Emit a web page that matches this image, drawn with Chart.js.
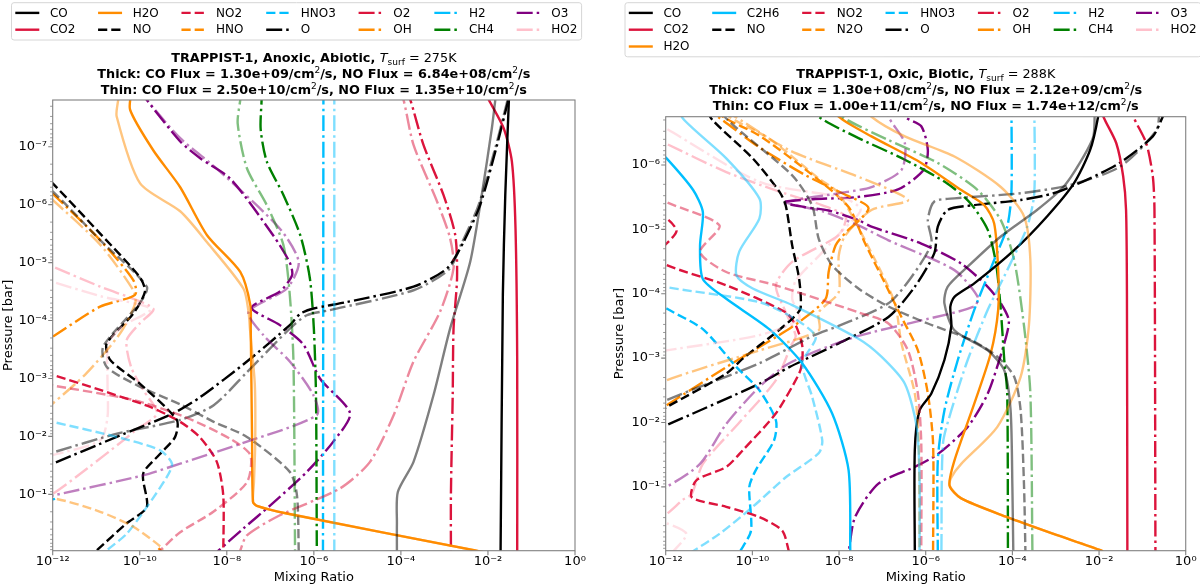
<!DOCTYPE html>
<html><head><meta charset="utf-8">
<script src="https://cdn.jsdelivr.net/npm/chart.js@4.4.1/dist/chart.umd.min.js"></script>
<style>
html,body{margin:0;padding:0;background:#fff;}
#wrap{position:relative;width:1200px;height:588px;overflow:hidden;}
.pane{position:absolute;top:0;width:600px;height:588px;}
</style></head><body>
<div id="wrap">
<div class="pane" style="left:0"><canvas id="cA" width="600" height="588"></canvas></div>
<div class="pane" style="left:600px"><canvas id="cB" width="600" height="588"></canvas></div>
</div>
<script>
// ---------------- axis values ----------------
const X_RANGE = [1e-12, 1];
const X_TICKS = [1e-12,1e-10,1e-8,1e-6,1e-4,1e-2,1];
const X_TICK_LABELS = ['10⁻¹²','10⁻¹⁰','10⁻⁸','10⁻⁶','10⁻⁴','10⁻²','10⁰'];
const A_P_RANGE = [1.56e-8, 0.94];
const A_Y_TICKS = [1e-7,1e-6,1e-5,1e-4,1e-3,1e-2,1e-1];
const A_Y_TICK_LABELS = ['10⁻⁷','10⁻⁶','10⁻⁵','10⁻⁴','10⁻³','10⁻²','10⁻¹'];
const B_P_RANGE = [1.78e-7, 0.98];
const B_Y_TICKS = [1e-6,1e-5,1e-4,1e-3,1e-2,1e-1];
const B_Y_TICK_LABELS = ['10⁻⁶','10⁻⁵','10⁻⁴','10⁻³','10⁻²','10⁻¹'];

// ---------------- titles ----------------
const A_NAME = 'TRAPPIST-1, Anoxic, Abiotic', A_TSURF = '275';
const A_FLUX_THICK = ['1.30e+09','6.84e+08'], A_FLUX_THIN = ['2.50e+10','1.35e+10'];
const B_NAME = 'TRAPPIST-1, Oxic, Biotic', B_TSURF = '288';
const B_FLUX_THICK = ['1.30e+08','2.12e+09'], B_FLUX_THIN = ['1.00e+11','1.74e+12'];

const A_SPECIES = ['CO','CO2','H2O','NO','NO2','HNO','HNO3','O','O2','OH','H2','CH4','O3','HO2'];
const B_SPECIES = ['CO','CO2','H2O','C2H6','NO','NO2','N2O','HNO3','O','O2','OH','H2','CH4','O3','HO2'];

// ---------------- panel A (anoxic, abiotic): [mixing ratio, pressure bar] ----------------
const A_CO = [[1.95e-2,1],[2.2e-2,3.6e-5],[2.5e-2,6.8e-7],[3.1e-2,1e-8]];
const A_CO_thin = [[8.1e-5,1],[8.1e-5,0.32],[8.5e-5,9.1e-2],[1.95e-4,2.75e-2],[5.6e-4,1.95e-3],[1.35e-3,1.38e-4],[3.9e-3,9.8e-6],[7.2e-3,6.8e-7],[1.23e-2,4.8e-8],[1.58e-2,1e-8]];
const A_CO2 = [[4.7e-2,1],[4.7e-2,5e-4],[4.3e-2,2.6e-6],[3.55e-2,1.8e-7],[2.3e-2,4.8e-8],[1.05e-2,1.55e-8],[7.9e-3,1e-8]];
const A_H2O = [[6.6e-11,1e-8],[6.0e-11,2.3e-8],[2.04e-10,1.15e-7],[8.5e-10,5e-7],[3.55e-9,3.4e-6],[2.04e-8,1.45e-5],[3.47e-8,5.4e-5],[3.55e-8,1.38e-4],[3.8e-8,1e-2],[4.0e-8,0.135],[4.9e-8,0.158],[2.4e-7,0.214],[5.1e-3,0.93],[8.1e-3,1]];
const A_H2O_thin = [[3.5e-11,1e-8],[3.2e-11,1.55e-8],[2.95e-11,3.0e-8],[1.02e-10,4.3e-7],[8.5e-10,1.3e-6],[3.55e-9,4.5e-6],[2.4e-8,2.8e-5],[3.16e-8,7.1e-5],[3.4e-8,1.38e-4],[4.4e-8,1.26e-3],[4.5e-8,1.26e-2],[4.2e-8,6.3e-2],[4.0e-8,0.135],[4.9e-8,0.158],[2.4e-7,0.214],[5.1e-3,0.93],[8.1e-3,1]];
const A_NO = [[3.2e-13,2e-7],[1e-12,4.3e-7],[1.23e-11,3.16e-6],[1e-10,1.78e-5],[1.32e-10,3.16e-5],[7.1e-11,7.6e-5],[1.74e-11,2.5e-4],[2.1e-11,4.8e-4],[1e-10,1.23e-3],[7.1e-10,5.2e-3],[6.5e-10,1.02e-2],[2.95e-10,2.0e-2],[1.2e-10,4.4e-2],[1.45e-10,0.166],[5.0e-11,0.316],[1.02e-11,0.93],[8.9e-12,1]];
const A_NO_thin = [[3.2e-13,3.16e-7],[1e-12,5.9e-7],[1.23e-11,4.1e-6],[1.45e-10,2.6e-5],[1e-10,5.0e-5],[1.45e-11,2.8e-4],[1.74e-11,6.3e-4],[1e-10,1.38e-3],[8.5e-10,2.8e-3],[5.0e-9,5.6e-3],[2.9e-8,1.02e-2],[2.8e-7,4.1e-2],[4.1e-7,0.105],[4.5e-7,1]];
const A_NO2 = [[3.2e-13,7.1e-4],[1e-12,8.7e-4],[1.23e-11,1.58e-3],[1.74e-10,3.1e-3],[8.5e-10,5.6e-3],[2.45e-9,1.05e-2],[5.9e-9,2.75e-2],[8.3e-9,0.105],[8.3e-9,1]];
const A_NO2_thin = [[3.2e-13,1.12e-3],[1e-12,1.32e-3],[7.1e-11,2.35e-3],[1e-9,4.5e-3],[1.2e-8,1.1e-2],[3.47e-8,2.1e-2],[2.9e-8,6.2e-2],[4.9e-9,0.2],[8.5e-10,0.45],[2.95e-10,0.93],[2.6e-10,1]];
const A_HNO = [[3.2e-10,1],[2.9e-10,0.9],[2.7e-10,0.85]];
const A_HNO_thin = [[3.2e-13,0.141],[1e-12,0.117],[1.23e-11,0.2],[7.1e-11,0.363],[2.95e-10,0.79],[3.55e-10,1]];
const A_HNO3 = [[3e-13,0.1],[1.15e-12,0.118],[3e-13,0.14]];
const A_HNO3_thin = [[3.2e-13,4.5e-3],[1e-12,5.6e-3],[2.95e-11,1.02e-2],[2.95e-10,1.74e-2],[5.5e-10,2.95e-2],[4.2e-10,5.0e-2],[1.45e-10,0.166],[5.0e-11,0.48],[1.74e-11,0.93],[1.58e-11,1]];
const A_O = [[3.2e-13,4.0e-2],[1e-12,2.95e-2],[2.95e-11,1.02e-2],[5.9e-10,4.0e-3],[2.45e-9,2.1e-3],[2.9e-8,5.1e-4],[2.8e-7,1.2e-4],[4.9e-7,7.6e-5],[9.8e-7,6.2e-5],[5.75e-6,4.8e-5],[1.95e-4,2.6e-5],[1.15e-3,1.26e-5],[2.75e-3,4.4e-6],[6.6e-3,1.02e-6],[1.62e-2,9.3e-8],[2.95e-2,1.55e-8],[3.55e-2,1e-8]];
const A_O_thin = [[3.2e-13,2.5e-2],[1e-12,1.9e-2],[3.16e-11,8.9e-3],[8.5e-10,5.2e-3],[5.0e-9,2.9e-3],[2.9e-8,7.8e-4],[2.8e-7,1.38e-4],[6.9e-7,8.1e-5],[2.35e-6,6.6e-5],[1.95e-4,3.0e-5],[1.26e-3,1.32e-5],[2.5e-3,4.6e-6],[6.0e-3,1.05e-6],[1.5e-2,1e-7],[2.8e-2,1.6e-8],[3.3e-2,1e-8]];
const A_O2 = [[1.26e-4,1e-8],[1.66e-4,1.58e-8],[3.3e-4,9.3e-8],[9.5e-4,6.8e-7],[1.78e-3,3.4e-6],[1.95e-3,1.86e-5],[1.62e-3,1.38e-4],[1.55e-3,1.95e-3],[1.41e-3,0.1],[1.41e-3,1]];
const A_O2_thin = [[8.9e-5,1e-8],[1.15e-4,1.55e-8],[1.95e-4,9.3e-8],[6.8e-4,8.9e-7],[1.35e-3,3.8e-6],[1.62e-3,1.26e-5],[7.9e-4,7.1e-5],[1.95e-4,5.1e-4],[6.8e-5,4.3e-3],[1.95e-5,2.75e-2],[4.0e-6,7.9e-2],[1.66e-7,0.23],[2.9e-8,0.51],[2.04e-8,0.93],[2.0e-8,1]];
const A_OH = [[3.2e-13,3.16e-7],[1e-12,6.5e-7],[1.23e-11,4.1e-6],[7.1e-11,2.0e-5],[7.8e-11,3.6e-5],[1.23e-11,5.75e-5],[1e-12,1.9e-4],[3.2e-13,3.16e-4]];
const A_OH_thin = [[3.2e-13,4.0e-7],[1e-12,8.3e-7],[1.26e-11,5.0e-6],[7.1e-11,3.0e-5],[7.9e-11,5.0e-5],[3.55e-11,1.66e-4],[6.0e-12,8.1e-4],[1e-12,2.7e-3],[3.2e-13,5.0e-3]];
const A_H2 = [[1.66e-6,1e-8],[1.62e-6,1]];
const A_H2_thin = [[2.95e-6,1e-8],[2.95e-6,1]];
const A_CH4 = [[6.3e-8,1e-8],[6.3e-8,1.55e-8],[6.0e-8,5e-8],[8.3e-8,1.8e-7],[2.0e-7,6.8e-7],[4.9e-7,3.4e-6],[8.1e-7,1.86e-5],[1e-6,1.38e-4],[1.12e-6,1.95e-3],[1.17e-6,1]];
const A_CH4_thin = [[2.24e-8,1e-8],[2.04e-8,1.55e-8],[1.78e-8,4e-8],[2.9e-8,2.35e-7],[8.3e-8,1.02e-6],[2.0e-7,5e-6],[2.8e-7,3.6e-5],[3.4e-7,5.1e-4],[3.7e-7,1]];
const A_O3 = [[1e-10,1e-8],[1.45e-10,1.55e-8],[8.5e-10,8.1e-8],[2.45e-9,1.58e-7],[1.2e-8,3.55e-7],[1.17e-7,3.4e-6],[2.8e-7,1e-5],[3.16e-7,1.66e-5],[1.66e-7,3.16e-5],[3.7e-8,6.0e-5],[1.66e-7,1.2e-4],[5.75e-7,2.6e-4],[1.38e-6,1e-3],[6.8e-6,4.0e-3],[2.8e-6,1.23e-2],[6.9e-7,4.1e-2],[1e-7,0.155],[2.4e-8,0.39],[6.5e-9,0.93],[6.0e-9,1]];
const A_O3_thin = [[1e-10,1e-8],[1.45e-10,1.55e-8],[8.5e-10,7.1e-8],[6.3e-9,2.5e-7],[1.66e-7,2.6e-6],[4.5e-7,9.8e-6],[2.4e-7,2.8e-5],[3.16e-8,7.1e-5],[6.9e-8,1.78e-4],[2.8e-7,5.1e-4],[9.8e-7,1.95e-3],[1.17e-6,4.3e-3],[2.9e-8,1.23e-2],[8.5e-10,2.95e-2],[1.2e-10,4.7e-2],[1e-12,0.105],[3.2e-13,0.126]];
const A_HO2 = [[3.2e-13,7.9e-6],[1e-12,1.17e-5],[1.23e-11,2.6e-5],[2.04e-10,6.2e-5],[1e-10,1.12e-4],[5e-11,2.2e-4],[6.3e-11,6.3e-4],[1.2e-10,1.58e-3],[2.5e-10,4e-3],[7.9e-11,7.9e-3],[4.2e-11,1.17e-2],[6.3e-12,3.55e-2],[1e-12,9.8e-2],[3.2e-13,0.141]];
const A_HO2_thin = [[3.2e-13,1.58e-5],[1e-12,2.14e-5],[1.26e-11,3.8e-5],[1.78e-10,6.3e-5],[4.0e-11,1.26e-4],[1.9e-11,2.5e-4],[1.82e-11,1.26e-3],[1.82e-11,4.6e-3],[1.23e-11,1.17e-2],[1e-12,2.1e-2],[3.2e-13,2.5e-2]];

// ---------------- panel B (oxic, biotic) ----------------
const B_CO = [[1e-2,1e-7],[9.5e-3,1.78e-7],[6.2e-3,5.9e-7],[2.6e-3,1.95e-6],[6.3e-4,6.3e-6],[1.1e-4,2.1e-5],[1.32e-5,6.9e-5],[4.6e-6,1.12e-4],[3.7e-6,1.58e-4],[3.9e-6,3.2e-4],[2.7e-6,1.07e-3],[1.35e-6,3.55e-3],[7.2e-7,6.5e-3],[5.6e-7,2.7e-2],[5.6e-7,1.05]];
const B_CO_thin = [[7.9e-3,1e-7],[7.4e-3,3.6e-7],[3.6e-3,9.3e-7],[1.5e-3,2.2e-6],[3.7e-4,5e-6],[5.4e-5,1.29e-5],[9.3e-6,3.8e-5],[3.2e-6,7.8e-5],[2.7e-6,1.41e-4],[4.6e-6,3.7e-4],[2.7e-5,7.6e-4],[6.5e-5,1.55e-3],[9.1e-5,6.5e-3],[1e-4,0.1],[1.05e-4,1.05]];
const B_CO2 = [[1e-2,1e-7],[1.26e-2,1.78e-7],[2.5e-2,4.6e-7],[3.6e-2,1.5e-6],[4.2e-2,5e-6],[4.4e-2,1e-4],[4.5e-2,1.05]];
const B_H2O = [[6.3e-9,1e-7],[9.8e-9,1.78e-7],[5.6e-8,3.6e-7],[7.9e-7,9.3e-7],[6.6e-6,2.45e-6],[2.24e-5,4.2e-6],[3.8e-5,8.1e-6],[4.7e-5,4.3e-5],[4.7e-5,1.78e-4],[3.16e-5,8.5e-4],[1.32e-5,5.1e-3],[4.6e-6,3.9e-2],[3.55e-6,9.5e-2],[6.6e-6,0.151],[7.6e-5,0.295],[8.9e-4,0.537],[1.15e-2,0.977],[1.26e-2,1.05]];
const B_H2O_thin = [[3.16e-8,1e-7],[5.6e-8,1.78e-7],[3.3e-7,3.6e-7],[4.6e-6,7.4e-7],[5.4e-5,2.2e-6],[1.86e-4,6.3e-6],[2.6e-4,3.0e-5],[2.4e-4,3.2e-4],[1.55e-4,1.95e-3],[4.5e-5,1.17e-2],[6.6e-6,4.4e-2],[3.9e-6,7.1e-2],[3.55e-6,9.5e-2],[6.6e-6,0.151],[7.6e-5,0.295],[8.9e-4,0.537],[1.15e-2,0.977],[1.26e-2,1.05]];
const B_C2H6 = [[5e-13,5e-7],[1.05e-12,7.9e-7],[4.3e-12,2.45e-6],[7.2e-12,5.4e-6],[6.2e-12,1.78e-5],[7.2e-12,5.9e-5],[2.5e-11,1.2e-4],[2.45e-10,3.55e-4],[1.41e-9,1.2e-3],[6.9e-9,7.2e-3],[1.66e-8,5.5e-2],[1.82e-8,1.05]];
const B_C2H6_thin = [[1.78e-12,1e-7],[2.5e-12,1.9e-7],[2.5e-11,7.9e-7],[1.45e-10,3.3e-6],[1.45e-10,6.8e-6],[5e-11,2.2e-5],[4.3e-11,5.2e-5],[1.02e-10,8.3e-5],[8.3e-10,1.5e-4],[2.8e-8,5e-4],[9.5e-8,9.5e-4],[3.3e-7,2.5e-3],[6.2e-7,1.17e-2],[7.2e-7,7.1e-2],[7.2e-7,1.05]];
const B_NO = [[6.3e-12,1e-7],[1.23e-11,2.04e-7],[1.02e-10,7.9e-7],[4.2e-10,2.6e-6],[5.9e-10,4.3e-6],[8.3e-10,1.78e-5],[1.2e-9,5.9e-5],[1.29e-9,1.7e-4],[8.3e-10,2.45e-4],[3.5e-10,4.0e-4],[6.0e-11,1.02e-3],[2.5e-11,1.74e-3],[1.05e-12,5.75e-3],[3.2e-13,8.9e-3]];
const B_NO_thin = [[1.58e-11,1e-7],[2.5e-11,1.9e-7],[8.3e-10,1.45e-6],[2.4e-9,4.3e-6],[3.4e-9,1.41e-5],[6.9e-9,3.6e-5],[2.8e-8,8.3e-5],[1.38e-7,1.58e-4],[1.12e-6,2.9e-4],[1.1e-5,5.2e-4],[4.5e-5,9.5e-4],[1.1e-4,1.95e-3],[1.55e-4,6.5e-3],[1.86e-4,0.1],[2e-4,1.05]];
const B_NO2 = [[3.2e-13,5e-6],[1.05e-12,6.8e-6],[1.78e-12,1.05e-5],[1.05e-12,1.66e-5],[5e-13,2.5e-5],[1.05e-12,3.6e-5],[2.5e-11,7.4e-5],[5.9e-10,1.95e-4],[1e-9,3.1e-4],[1.41e-9,6.3e-4],[1.41e-9,1.15e-3],[1.2e-9,1.74e-3],[3.5e-10,7.2e-3],[6.0e-11,2.7e-2],[2.5e-11,4.9e-2],[5.1e-12,7.9e-2],[4e-12,0.145],[2.5e-11,0.204],[1.45e-10,0.295],[4.9e-10,0.48],[7.1e-10,1.05]];
const B_NO2_thin = [[3.2e-13,2.5e-6],[1.05e-12,3.8e-6],[1.74e-11,8.7e-6],[6.2e-12,2.24e-5],[2.5e-11,4.6e-5],[3.5e-10,7.4e-5],[2.8e-8,1.95e-4],[1.38e-7,2.9e-4],[3.9e-7,7.6e-4],[6.6e-7,3.55e-3],[7.9e-7,2.14e-2],[7.9e-7,1.05]];
const B_N2O = [[1e-11,1e-7],[2.1e-11,1.78e-7],[1.45e-10,3.5e-7],[2.0e-9,1.29e-6],[1.66e-8,4.5e-6],[4.0e-8,1.66e-5],[1.15e-7,6.9e-5],[2.75e-7,2.3e-4],[6.6e-7,7.6e-4],[1.12e-6,3.55e-3],[1.48e-6,2.14e-2],[1.48e-6,1.05]];
const B_N2O_thin = [[1.58e-11,1e-7],[2.95e-11,1.78e-7],[2.45e-10,3.9e-7],[3.4e-9,1.62e-6],[9.8e-9,2.75e-6],[6.8e-8,3.0e-5],[1.95e-7,1.41e-4],[2.75e-7,5.9e-4],[5.6e-7,3.55e-3],[6.9e-7,2.14e-2],[7.2e-7,1.05]];
const B_HNO3 = [[3.2e-13,1e-4],[1.05e-12,1.7e-4],[7.2e-12,3.55e-4],[4.3e-11,1.38e-3],[1.45e-10,3.16e-3],[3.5e-10,9.3e-3],[3.16e-10,1.9e-2],[1.2e-10,5.5e-2],[8.5e-11,0.1],[9.3e-11,0.48],[5e-11,1.05]];
const B_HNO3_thin = [[3.2e-13,6.3e-5],[1.05e-12,7.9e-5],[1.45e-10,1.35e-4],[1e-9,2.5e-4],[2.9e-9,4.7e-4],[1.41e-9,1.2e-3],[2.4e-9,4e-3],[4.1e-9,1.9e-2],[3.4e-9,3.0e-2],[5.9e-10,7.1e-2],[1.02e-10,0.204],[1.74e-11,0.537],[3.8e-12,1.05]];
const B_O = [[3.2e-13,1.58e-2],[1.05e-12,1.1e-2],[1.45e-10,2.5e-3],[7.1e-10,1.38e-3],[9.8e-9,5.9e-4],[1.38e-7,2.3e-4],[5.6e-7,7.8e-5],[1.58e-6,2.34e-5],[1.9e-6,9.1e-6],[3.2e-6,5e-6],[1.32e-5,4.2e-6],[1.55e-4,3.5e-6],[8.9e-4,2.75e-6],[5.2e-3,1.7e-6],[3.0e-2,9.3e-7],[0.174,3.6e-7],[0.295,1.78e-7],[0.355,1.26e-7]];
const B_O_thin = [[3.2e-13,7.1e-3],[1.05e-12,4.5e-3],[1.45e-10,1.2e-3],[2.5e-9,4.5e-4],[9.8e-9,3.16e-4],[1.38e-7,1.41e-4],[4.7e-7,5.5e-5],[1.35e-6,1.66e-5],[1.12e-6,7.2e-6],[1.58e-6,3.7e-6],[4.6e-6,3.3e-6],[1.55e-4,2.75e-6],[2.2e-3,2.04e-6],[3.0e-2,1.07e-6],[0.209,2.9e-7],[0.25,1.26e-7]];
const B_O2 = [[5e-2,1e-7],[6.2e-2,1.78e-7],[0.123,4.6e-7],[0.174,1.5e-6],[0.19,5e-6],[0.2,1.05]];
const B_OH = [[3.2e-13,8.9e-3],[1.05e-12,5.4e-3],[2.5e-11,1.38e-3],[3.5e-10,4.7e-4],[1.2e-9,2.75e-4],[4.9e-9,1.2e-4],[5.75e-9,4.6e-5],[8.3e-9,1.78e-5],[1.38e-8,1.15e-5],[4.8e-8,4.7e-6],[1.26e-8,2.8e-6],[1.58e-9,1.41e-6],[1.26e-10,5e-7],[1.58e-11,1.78e-7],[6.3e-12,1.26e-7]];
const B_OH_thin = [[3.2e-13,3.55e-3],[1.05e-12,2.2e-3],[1.45e-10,7.6e-4],[3.4e-9,3.7e-4],[3.4e-9,1.95e-4],[9.8e-9,9.5e-5],[9.8e-9,2.6e-5],[1.38e-8,1.26e-5],[5.6e-8,5e-6],[3.9e-7,3.5e-6],[3.16e-8,1.58e-6],[7.1e-10,5.9e-7],[4e-11,1.78e-7],[1.58e-11,1.26e-7]];
const B_H2 = [[9.5e-5,1e-7],[9.5e-5,2.75e-6],[7.6e-5,9.1e-6],[3.8e-5,3.0e-5],[1.32e-5,1.78e-4],[5.5e-6,1.07e-3],[2.7e-6,6.5e-3],[1.9e-6,3.9e-2],[1.9e-6,1.05]];
const B_H2_thin = [[3.2e-4,1e-7],[3.2e-4,2.75e-6],[2.2e-4,9.1e-6],[7.6e-5,4.3e-5],[2.7e-5,1.78e-4],[9.3e-6,1.07e-3],[3.9e-6,6.5e-3],[2.5e-6,2.14e-2],[2.3e-6,1.05]];
const B_CH4 = [[2e-9,1e-7],[3.4e-9,1.78e-7],[2.34e-8,3.6e-7],[3.3e-7,8.3e-7],[3.2e-6,1.95e-6],[1.1e-5,4e-6],[2.7e-5,1.02e-5],[4.2e-5,3.4e-5],[5.4e-5,1.78e-4],[6.5e-5,1.07e-3],[7.6e-5,3.55e-3],[7.9e-5,1.05]];
const B_CH4_thin = [[6.3e-9,1e-7],[1.17e-8,1.78e-7],[1.38e-7,4.1e-7],[1.9e-6,9.3e-7],[1.58e-5,2.45e-6],[5.4e-5,7.2e-6],[1.1e-4,3.0e-5],[1.86e-4,3.2e-4],[2.6e-4,3.55e-3],[2.9e-4,1.05]];
const B_O3 = [[2.5e-7,1e-7],[3.3e-7,1.78e-7],[7.9e-7,2.5e-7],[1.12e-6,5.9e-7],[8.9e-7,1.2e-6],[2.3e-7,2.4e-6],[2.5e-8,3.16e-6],[2.5e-9,3.4e-6],[5e-10,3.8e-6],[1.58e-9,4.5e-6],[5.75e-9,5.1e-6],[2.8e-8,7.2e-6],[5.6e-8,9.1e-6],[7.9e-7,1.66e-5],[6.6e-6,3.4e-5],[2.7e-5,7.8e-5],[5.4e-5,1.41e-4],[8.3e-5,2.6e-4],[6.5e-5,5.9e-4],[2.7e-5,3.55e-3],[9.3e-6,1.17e-2],[1.9e-6,3.1e-2],[5.6e-7,4.9e-2],[8.1e-8,8.9e-2],[2.34e-8,0.295],[1.66e-8,1.05]];
const B_O3_thin = [[1.26e-7,1e-7],[1.38e-7,1.78e-7],[3.3e-7,4.6e-7],[2.75e-7,1.2e-6],[5.6e-8,2.2e-6],[9.8e-9,2.75e-6],[6.3e-10,3.8e-6],[4e-9,5.2e-6],[2.8e-8,8.7e-6],[1.38e-7,1.48e-5],[4.6e-6,4.3e-5],[1.58e-5,1.12e-4],[1.32e-5,1.58e-4],[7.9e-7,2.6e-4],[2.34e-8,4.7e-4],[7.1e-10,1.2e-3],[1.45e-10,2.8e-3],[2.5e-11,1.05e-2],[6.2e-12,4.4e-2],[1.05e-12,0.1],[3.2e-13,0.141]];
const B_HO2 = [[3.2e-13,3.16e-7],[1.05e-12,4.7e-7],[2.5e-11,1.29e-6],[4.2e-10,2.6e-6],[4e-9,4.2e-6],[1.41e-8,6.3e-6],[9.8e-9,1.23e-5],[8.3e-10,3.2e-5],[3.5e-10,7.4e-5],[5.9e-10,1.95e-4],[1e-9,4.5e-4],[7.9e-10,6.3e-4],[3.5e-10,2.2e-3],[5e-11,1e-2],[7.2e-12,4.4e-2],[4e-12,0.129],[2.5e-12,0.158],[1.05e-12,0.263],[3.2e-13,0.4]];
const B_HO2_thin = [[3.2e-13,1.78e-7],[1.05e-12,2.75e-7],[1.45e-10,1.82e-6],[1.38e-8,3.3e-6],[3.16e-8,5e-6],[1.26e-8,1e-5],[3.4e-9,2.6e-5],[1e-9,6.3e-5],[8.3e-10,1.2e-4],[1.2e-9,2.45e-4],[1.45e-10,4.4e-4],[1.05e-12,7.6e-4],[1e-13,1e-3],[1e-13,0.25],[1.05e-12,0.37],[3e-12,0.537],[1.5e-12,1],[1.26e-12,1.05]];

const A_CURVES = {CO:[A_CO,A_CO_thin],CO2:[A_CO2,null],H2O:[A_H2O,A_H2O_thin],NO:[A_NO,A_NO_thin],NO2:[A_NO2,A_NO2_thin],HNO:[A_HNO,A_HNO_thin],HNO3:[A_HNO3,A_HNO3_thin],O:[A_O,A_O_thin],O2:[A_O2,A_O2_thin],OH:[A_OH,A_OH_thin],H2:[A_H2,A_H2_thin],CH4:[A_CH4,A_CH4_thin],O3:[A_O3,A_O3_thin],HO2:[A_HO2,A_HO2_thin]};
const B_CURVES = {CO:[B_CO,B_CO_thin],CO2:[B_CO2,null],H2O:[B_H2O,B_H2O_thin],C2H6:[B_C2H6,B_C2H6_thin],NO:[B_NO,B_NO_thin],NO2:[B_NO2,B_NO2_thin],N2O:[B_N2O,B_N2O_thin],HNO3:[B_HNO3,B_HNO3_thin],O:[B_O,B_O_thin],O2:[B_O2,null],OH:[B_OH,B_OH_thin],H2:[B_H2,B_H2_thin],CH4:[B_CH4,B_CH4_thin],O3:[B_O3,B_O3_thin],HO2:[B_HO2,B_HO2_thin]};

// ---------------- styles ----------------
const COLORS = {black:[0,0,0], crimson:[220,20,60], orange:[255,140,0], sky:[0,191,255], green:[0,128,0], purple:[128,0,128], pink:[255,192,203]};
const STYLE = {CO:['black','solid'],CO2:['crimson','solid'],H2O:['orange','solid'],C2H6:['sky','solid'],
  NO:['black','dash'],NO2:['crimson','dash'],HNO:['orange','dash'],N2O:['orange','dash'],HNO3:['sky','dash'],
  O:['black','dashdot'],O2:['crimson','dashdot'],OH:['orange','dashdot'],H2:['sky','dashdot'],CH4:['green','dashdot'],O3:['purple','dashdot'],HO2:['pink','dashdot']};
const DASH = {solid:[], dash:[9.2,4], dashdot:[16,4,2.5,4]};
const LW = 2.4;
const FONT = '"DejaVu Sans", "Liberation Sans", sans-serif';

function rgba(name, a){const c=COLORS[name];return 'rgba('+c[0]+','+c[1]+','+c[2]+','+a+')';}

function buildDatasets(species, curves){
  const ds=[];
  species.forEach(sp=>{
    const [thick, thin] = curves[sp];
    const st = STYLE[sp];
    const mk = (arr, isThin) => ({
      label: sp + (isThin ? ' (thin)' : ''),
      data: arr.map(([x,y])=>({x:x,y:y})),
      borderColor: rgba(st[0], isThin ? 0.5 : 1),
      borderWidth: LW,
      borderDash: DASH[st[1]],
      borderCapStyle: 'butt',
      pointRadius: 0, pointHoverRadius: 0, pointHitRadius: 0,
      fill: false, tension: 0.25, order: isThin ? 0 : 1
    });
    ds.push(mk(thick,false));
    if (thin) ds.push(mk(thin,true));
  });
  return ds;
}

function minorTicks(range){
  const out=[]; const lo=Math.floor(Math.log10(range[0])), hi=Math.ceil(Math.log10(range[1]));
  for(let n=lo;n<=hi;n++){for(let k=2;k<=9;k++){const v=k*Math.pow(10,n); if(v>=range[0]&&v<=range[1]) out.push(v);}}
  return out;
}
function labelFor(v, ticks, labels){
  for(let i=0;i<ticks.length;i++){ if(Math.abs(Math.log10(v)-Math.log10(ticks[i]))<1e-6) return labels[i]; }
  return '';
}

function drawRich(ctx, segs, cx, baseY){
  let total=0;
  segs.forEach(s=>{ctx.font=s.f; s.w=ctx.measureText(s.t).width; total+=s.w;});
  let x=cx-total/2;
  ctx.textBaseline='alphabetic'; ctx.textAlign='left'; ctx.fillStyle='#000';
  segs.forEach(s=>{ctx.font=s.f; ctx.fillText(s.t, x, baseY+(s.dy||0)); x+=s.w;});
}

function titleSegs(name, tsurf, thick, thin){
  const B='bold 12.8px '+FONT, I='oblique 12.8px '+FONT, R='12.8px '+FONT, S='9px '+FONT;
  const fl = (pre, f) => [{t:pre+': CO Flux = '+f[0]+'/cm',f:B},{t:'2',f:S,dy:-5},{t:'/s, NO Flux = '+f[1]+'/cm',f:B},{t:'2',f:S,dy:-5},{t:'/s',f:B}];
  return [
    [{t:name+', ',f:B},{t:'T',f:I},{t:'surf',f:S,dy:2.8},{t:' = '+tsurf+'K',f:R}],
    fl('Thick', thick), fl('Thin', thin)
  ];
}

function drawLegend(ctx, species, cfg){
  const ncol=7, n=species.length, nrows=Math.ceil(n/ncol), extra=n%ncol;
  const cols=[]; let idx=0;
  for(let c=0;c<ncol;c++){const cnt=(extra===0||c<extra)?nrows:nrows-1; cols.push(species.slice(idx,idx+cnt)); idx+=cnt;}
  ctx.font='12px '+FONT;
  const x0=cfg.left+3.8; let x=x0; const pos=[];
  cols.forEach(col=>{const w=Math.max(...col.map(s=>ctx.measureText(s).width)); pos.push(x); x+=34.6+w+22.7;});
  const lastW=Math.max(...cols[ncol-1].map(s=>ctx.measureText(s).width));
  const right=pos[ncol-1]+34.6+lastW+4.2;
  const top=cfg.top, rowH=16.8, bottom=top+10.2+(nrows-1)*rowH+10.3;
  ctx.save();
  ctx.beginPath();
  const r=2.5, l=cfg.left;
  ctx.moveTo(l+r,top); ctx.lineTo(right-r,top); ctx.quadraticCurveTo(right,top,right,top+r);
  ctx.lineTo(right,bottom-r); ctx.quadraticCurveTo(right,bottom,right-r,bottom);
  ctx.lineTo(l+r,bottom); ctx.quadraticCurveTo(l,bottom,l,bottom-r);
  ctx.lineTo(l,top+r); ctx.quadraticCurveTo(l,top,l+r,top); ctx.closePath();
  ctx.fillStyle='rgba(255,255,255,0.8)'; ctx.fill();
  ctx.strokeStyle='#d6d6d6'; ctx.lineWidth=1; ctx.stroke();
  cols.forEach((col,c)=>{
    col.forEach((sp,rw)=>{
      const y=top+10.2+rw*rowH; const st=STYLE[sp];
      ctx.beginPath(); ctx.setLineDash(DASH[st[1]]); ctx.lineCap='butt';
      ctx.strokeStyle=rgba(st[0],1); ctx.lineWidth=LW;
      ctx.moveTo(pos[c],y); ctx.lineTo(pos[c]+24,y); ctx.stroke();
      ctx.setLineDash([]);
      ctx.fillStyle='#000'; ctx.font='12px '+FONT; ctx.textBaseline='middle'; ctx.textAlign='left';
      ctx.fillText(sp,pos[c]+34.6,y+0.5);
    });
  });
  ctx.restore();
}

const decor = {
  id:'decor',
  afterDatasetsDraw(chart, args, o){
    const ctx=chart.ctx, a=chart.chartArea, xs=chart.scales.x, ys=chart.scales.y;
    ctx.save();
    ctx.setLineDash([]);
    ctx.strokeStyle='#808080'; ctx.lineWidth=1.1;
    ctx.beginPath();
    o.xMajor.forEach(v=>{const p=xs.getPixelForValue(v); ctx.moveTo(p,a.bottom); ctx.lineTo(p,a.bottom+4.5);});
    o.yMajor.forEach(v=>{const p=ys.getPixelForValue(v); ctx.moveTo(a.left,p); ctx.lineTo(a.left-4.5,p);});
    ctx.stroke();
    ctx.lineWidth=0.8; ctx.beginPath();
    o.yMinor.forEach(v=>{const p=ys.getPixelForValue(v); ctx.moveTo(a.left,p); ctx.lineTo(a.left-2.6,p);});
    ctx.stroke();
    ctx.lineWidth=1.1;
    ctx.strokeRect(a.left,a.top,a.right-a.left,a.bottom-a.top);
    ctx.restore();
  },
  afterDraw(chart, args, o){
    const ctx=chart.ctx, a=chart.chartArea;
    ctx.save();
    const cx=(a.left+a.right)/2;
    o.title.forEach((segs,i)=>drawRich(ctx, segs, cx, o.titleBase[i]));
    drawLegend(ctx, o.species, o.legend);
    ctx.restore();
  }
};

function makeChart(id, p){
  const yMinor = minorTicks(p.pRange);
  return new Chart(document.getElementById(id), {
    type:'line',
    data:{datasets: buildDatasets(p.species, p.curves)},
    options:{
      responsive:false, animation:false, events:[],
      layout:{padding:{left:0,right:p.padRight,top:p.padTop,bottom:0}},
      elements:{line:{capBezierPoints:false}},
      plugins:{legend:{display:false}, tooltip:{enabled:false},
        decor:{xMajor:X_TICKS, yMajor:p.yTicks, yMinor:yMinor, title:p.title, titleBase:p.titleBase, species:p.species, legend:p.legend}},
      scales:{
        x:{type:'logarithmic', min:X_RANGE[0], max:X_RANGE[1],
          afterBuildTicks:s=>{s.ticks=X_TICKS.map(v=>({value:v, major:true}));},
          afterFit:s=>{s.height=37.3;},
          grid:{display:false, drawTicks:false}, border:{display:false},
          ticks:{autoSkip:false, maxRotation:0, minRotation:0, padding:3.4, color:'#000', font:{family:FONT, size:13},
            callback:(v)=>labelFor(v, X_TICKS, X_TICK_LABELS)},
          title:{display:true, text:'Mixing Ratio', color:'#000', font:{family:FONT, size:13}, padding:{top:0,bottom:2.2}}},
        y:{type:'logarithmic', reverse:true, min:p.pRange[0], max:p.pRange[1],
          afterBuildTicks:s=>{s.ticks=p.yTicks.concat(yMinor).map(v=>({value:v}));},
          afterFit:s=>{s.width=p.yWidth;},
          grid:{display:false, drawTicks:false}, border:{display:false},
          ticks:{autoSkip:false, padding:5.7, color:'#000', font:{family:FONT, size:13},
            callback:(v)=>labelFor(v, p.yTicks, p.yLabels)},
          title:{display:true, text:'Pressure [bar]', color:'#000', font:{family:FONT, size:13}, padding:{top:p.yTitlePad,bottom:0}}}
      }
    },
    plugins:[decor]
  });
}

makeChart('cA', {species:A_SPECIES, curves:A_CURVES, pRange:A_P_RANGE, yTicks:A_Y_TICKS, yLabels:A_Y_TICK_LABELS,
  padRight:25, padTop:100, yWidth:52.7, yTitlePad:0.5,
  title:titleSegs(A_NAME, A_TSURF, A_FLUX_THICK, A_FLUX_THIN), titleBase:[62,78,94],
  legend:{left:11.5, top:2.7}});
makeChart('cB', {species:B_SPECIES, curves:B_CURVES, pRange:B_P_RANGE, yTicks:B_Y_TICKS, yLabels:B_Y_TICK_LABELS,
  padRight:10.3, padTop:116.7, yWidth:65.7, yTitlePad:12.2,
  title:titleSegs(B_NAME, B_TSURF, B_FLUX_THICK, B_FLUX_THIN), titleBase:[78,94,110],
  legend:{left:25, top:2.7}});
</script>
</body></html>
